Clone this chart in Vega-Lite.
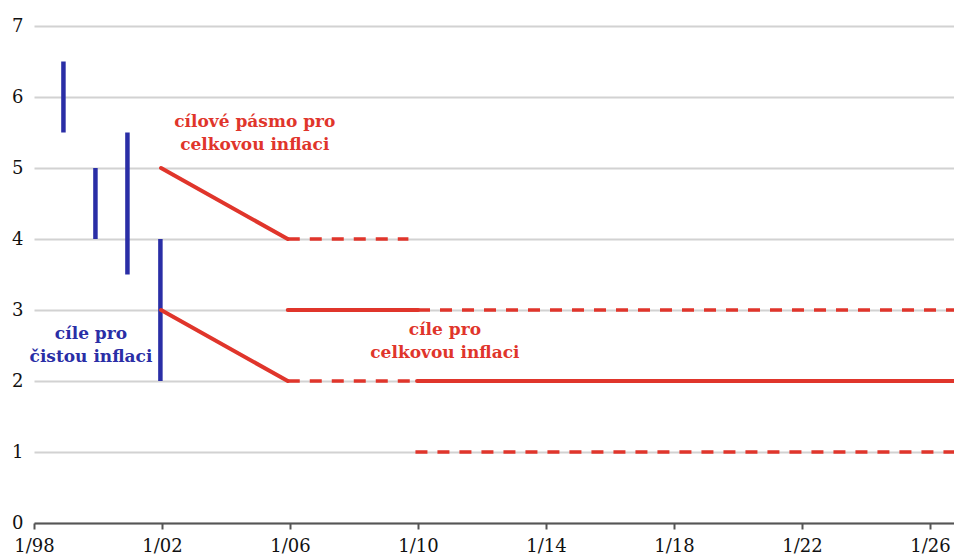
{
  "$schema": "https://vega.github.io/schema/vega-lite/v6.json",
  "autosize": "none",
  "padding": {"left": 34, "top": 26, "right": 0, "bottom": 31},
  "width": 920,
  "height": 497,
  "background": "white",
  "config": {"view": {"stroke": null}},
  "datasets": {
    "core": [
      {"date": 1998.92, "lo": 5.5, "hi": 6.5},
      {"date": 1999.92, "lo": 4.0, "hi": 5.0},
      {"date": 2000.92, "lo": 3.5, "hi": 5.5},
      {"date": 2001.95, "lo": 2.0, "hi": 4.0}
    ],
    "solid": [
      {"x1": 2001.97, "y1": 5, "x2": 2005.93, "y2": 4},
      {"x1": 2001.97, "y1": 3, "x2": 2005.93, "y2": 2},
      {"x1": 2005.93, "y1": 3, "x2": 2010.0, "y2": 3},
      {"x1": 2009.97, "y1": 2, "x2": 2026.75, "y2": 2}
    ],
    "dashed": [
      {"x1": 2005.93, "y1": 4, "x2": 2009.7, "y2": 4},
      {"x1": 2005.93, "y1": 2, "x2": 2009.75, "y2": 2},
      {"x1": 2010.0, "y1": 3, "x2": 2026.75, "y2": 3},
      {"x1": 2009.92, "y1": 1, "x2": 2026.75, "y2": 1}
    ],
    "labels": [
      {"x": 2004.9, "y": 5.65, "group": "celková", "text": "cílové pásmo pro\ncelkovou inflaci"},
      {"x": 1999.78, "y": 2.66, "group": "čistá", "text": "cíle pro\nčistou inflaci"},
      {"x": 2010.84, "y": 2.72, "group": "celková", "text": "cíle pro\ncelkovou inflaci"}
    ]
  },
  "layer": [
    {
      "data": {"name": "core"},
      "mark": {"type": "rule", "color": "#2a2ea6", "strokeWidth": 4.5, "strokeCap": "butt"},
      "encoding": {
        "x": {
          "field": "date", "type": "quantitative",
          "scale": {"domain": [1998, 2026.75], "nice": false, "zero": false},
          "axis": {
            "title": null,
            "values": [1998, 2002, 2006, 2010, 2014, 2018, 2022, 2026],
            "labelExpr": "'1/' + format(datum.value % 100, '02d')",
            "grid": false,
            "domainColor": "#555555",
            "domainWidth": 2,
            "tickColor": "#555555",
            "tickWidth": 2,
            "tickSize": 6,
            "labelFont": "DejaVu Serif",
            "labelFontSize": 18,
            "labelColor": "#111111",
            "labelPadding": 8,
            "labelFlush": false,
            "labelOverlap": false,
            "labelBound": false
          }
        },
        "y": {
          "field": "lo", "type": "quantitative",
          "scale": {"domain": [0, 7], "nice": false},
          "axis": {
            "title": null,
            "values": [0, 1, 2, 3, 4, 5, 6, 7],
            "format": "d",
            "grid": true,
            "gridColor": "#d2d2d2",
            "gridWidth": 2,
            "domain": false,
            "ticks": false,
            "labelFont": "DejaVu Serif",
            "labelFontSize": 18,
            "labelColor": "#111111",
            "labelPadding": 11
          }
        },
        "y2": {"field": "hi"}
      }
    },
    {
      "data": {"name": "solid"},
      "mark": {"type": "rule", "color": "#e0352b", "strokeWidth": 4, "strokeCap": "round"},
      "encoding": {
        "x": {"field": "x1", "type": "quantitative"},
        "y": {"field": "y1", "type": "quantitative"},
        "x2": {"field": "x2"},
        "y2": {"field": "y2"}
      }
    },
    {
      "data": {"name": "dashed"},
      "mark": {"type": "rule", "color": "#e0352b", "strokeWidth": 3.5, "strokeDash": [12, 10], "strokeCap": "butt"},
      "encoding": {
        "x": {"field": "x1", "type": "quantitative"},
        "y": {"field": "y1", "type": "quantitative"},
        "x2": {"field": "x2"},
        "y2": {"field": "y2"}
      }
    },
    {
      "data": {"name": "labels"},
      "mark": {"type": "text", "font": "DejaVu Serif", "fontSize": 17, "fontWeight": "bold", "lineBreak": "\n", "lineHeight": 23, "align": "center", "baseline": "middle"},
      "encoding": {
        "x": {"field": "x", "type": "quantitative"},
        "y": {"field": "y", "type": "quantitative"},
        "text": {"field": "text"},
        "color": {
          "field": "group", "type": "nominal",
          "scale": {"domain": ["čistá", "celková"], "range": ["#2a2ea6", "#e0352b"]},
          "legend": null
        }
      }
    }
  ]
}
